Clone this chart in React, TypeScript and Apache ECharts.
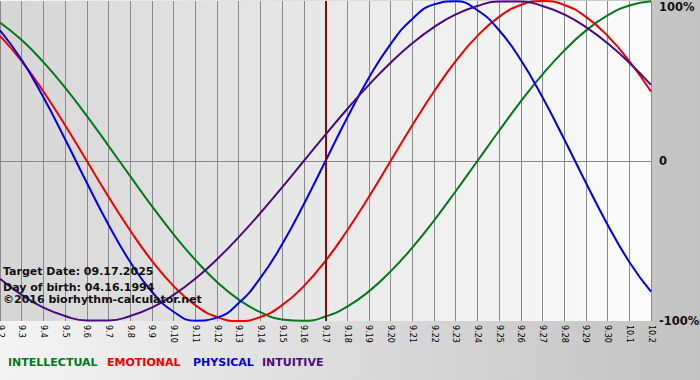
import React, { useEffect, useRef } from "react";
import * as echarts from "echarts";

const dates = ["9.2","9.3","9.4","9.5","9.6","9.7","9.8","9.9","9.10","9.11","9.12","9.13","9.14","9.15","9.16","9.17","9.18","9.19","9.20","9.21","9.22","9.23","9.24","9.25","9.26","9.27","9.28","9.29","9.30","10.1","10.2"];

const intellectual = [86.6, 75.6, 61.8, 45.8, 28.2, 9.5, -9.5, -28.2, -45.8, -61.8, -75.6, -86.6, -94.5, -99.0, -99.9, -97.2, -91.0, -81.5, -69.0, -54.1, -37.2, -18.9, 0, 18.9, 37.2, 54.1, 69.0, 81.5, 91.0, 97.2, 99.9];
const emotional = [78.2, 62.4, 43.4, 22.3, 0, -22.3, -43.4, -62.4, -78.2, -90.1, -97.5, -100, -97.5, -90.1, -78.2, -62.4, -43.4, -22.3, 0, 22.3, 43.4, 62.4, 78.2, 90.1, 97.5, 100, 97.5, 90.1, 78.2, 62.4, 43.4];
const physical = [81.7, 63.1, 39.8, 13.6, -13.6, -39.8, -63.1, -81.7, -94.2, -99.8, -97.9, -88.8, -73.1, -52.0, -27.0, 0, 27.0, 52.0, 73.1, 88.8, 97.9, 99.8, 94.2, 81.7, 63.1, 39.8, 13.6, -13.6, -39.8, -63.1, -81.7];
const intuitive = [-73.6, -83.7, -91.6, -96.9, -99.7, -99.7, -96.9, -91.6, -83.7, -73.6, -61.4, -47.6, -32.5, -16.5, 0, 16.5, 32.5, 47.6, 61.4, 73.6, 83.7, 91.6, 96.9, 99.7, 99.7, 96.9, 91.6, 83.7, 73.6, 61.4, 47.6];

const targetDay = "9.17";
const infoLines = ["Target Date: 09.17.2025", "Day of birth: 04.16.1994", "\u00a92016 biorhythm-calculator.net"];
const legendNames = ["INTELLECTUAL", "EMOTIONAL", "PHYSICAL", "INTUITIVE"];
const colors = ["#007a1a", "#f00000", "#0000f0", "#4b0a82"];

export default function App() {
  const ref = useRef<HTMLDivElement>(null);
  useEffect(() => {
    const chart = echarts.init(ref.current!, undefined, { renderer: "svg" });
    const seriesData = [intellectual, emotional, physical, intuitive];
    const bold = "bold 11px 'DejaVu Sans'";
    const infoY = [271, 287, 299];
    const legendX = [8, 107, 193, 262];
    chart.setOption({
      animation: false,
      grid: {
        left: 0,
        right: 49,
        top: 1,
        height: 320,
        outerBoundsMode: "none",
        containLabel: false,
        show: true,
        borderWidth: 0,
        backgroundColor: new echarts.graphic.LinearGradient(0, 0, 1, 0, [
          { offset: 0, color: "#d6d6d6" },
          { offset: 1, color: "#fcfcfc" },
        ]),
      },
      xAxis: {
        type: "category",
        data: dates,
        boundaryGap: false,
        axisLine: { show: true, lineStyle: { color: "#8a8a8a", width: 1 } },
        axisTick: { show: true, length: 4, lineStyle: { color: "#8a8a8a" } },
        splitLine: { show: true, lineStyle: { color: "#8a8a8a", width: 1 } },
        axisLabel: {
          rotate: -90,
          margin: 4,
          fontSize: 8,
          fontFamily: "DejaVu Sans",
          color: "#000",
          interval: 0,
        },
      },
      yAxis: {
        type: "value",
        position: "right",
        min: -100,
        max: 100,
        interval: 100,
        axisLine: { show: false },
        axisTick: { show: false },
        splitLine: { show: true, lineStyle: { color: ["transparent", "#8a8a8a", "transparent"], width: 1 } },
        axisLabel: {
          margin: 8,
          fontSize: 11.5,
          fontWeight: "bold",
          fontFamily: "DejaVu Sans",
          color: "#111",
          verticalAlignMaxLabel: "top",
          formatter: (v: number) => (v === 0 ? "0" : v + "%"),
        },
      },
      series: seriesData.map((d, i) => ({
        type: "line",
        name: legendNames[i],
        data: d,
        smooth: true,
        symbol: "none",
        lineStyle: { color: colors[i], width: 2 },
        z: 3 + i,
        markLine:
          i === 0
            ? {
                silent: true,
                symbol: "none",
                label: { show: false },
                lineStyle: { color: "#7a0f0f", width: 2, type: "solid" },
                data: [{ xAxis: targetDay }],
                z: 10,
              }
            : undefined,
      })),
      graphic: [
        ...infoLines.map((t, i) => ({
          type: "text",
          x: 3,
          y: infoY[i],
          z: 100,
          style: { text: t, font: bold, fill: "#111", verticalAlign: "middle" },
        })),
        ...legendNames.map((t, i) => ({
          type: "text",
          x: legendX[i],
          y: 362,
          z: 100,
          style: { text: t, font: bold, fill: colors[i], verticalAlign: "middle" },
        })),
      ],
    });
    return () => chart.dispose();
  }, []);
  return (
    <div
      ref={ref}
      style={{
        position: "fixed",
        left: 0,
        top: 0,
        width: 700,
        height: 380,
        background: "linear-gradient(to right, #f4f4f4, #c2c2c2)",
      }}
    />
  );
}
